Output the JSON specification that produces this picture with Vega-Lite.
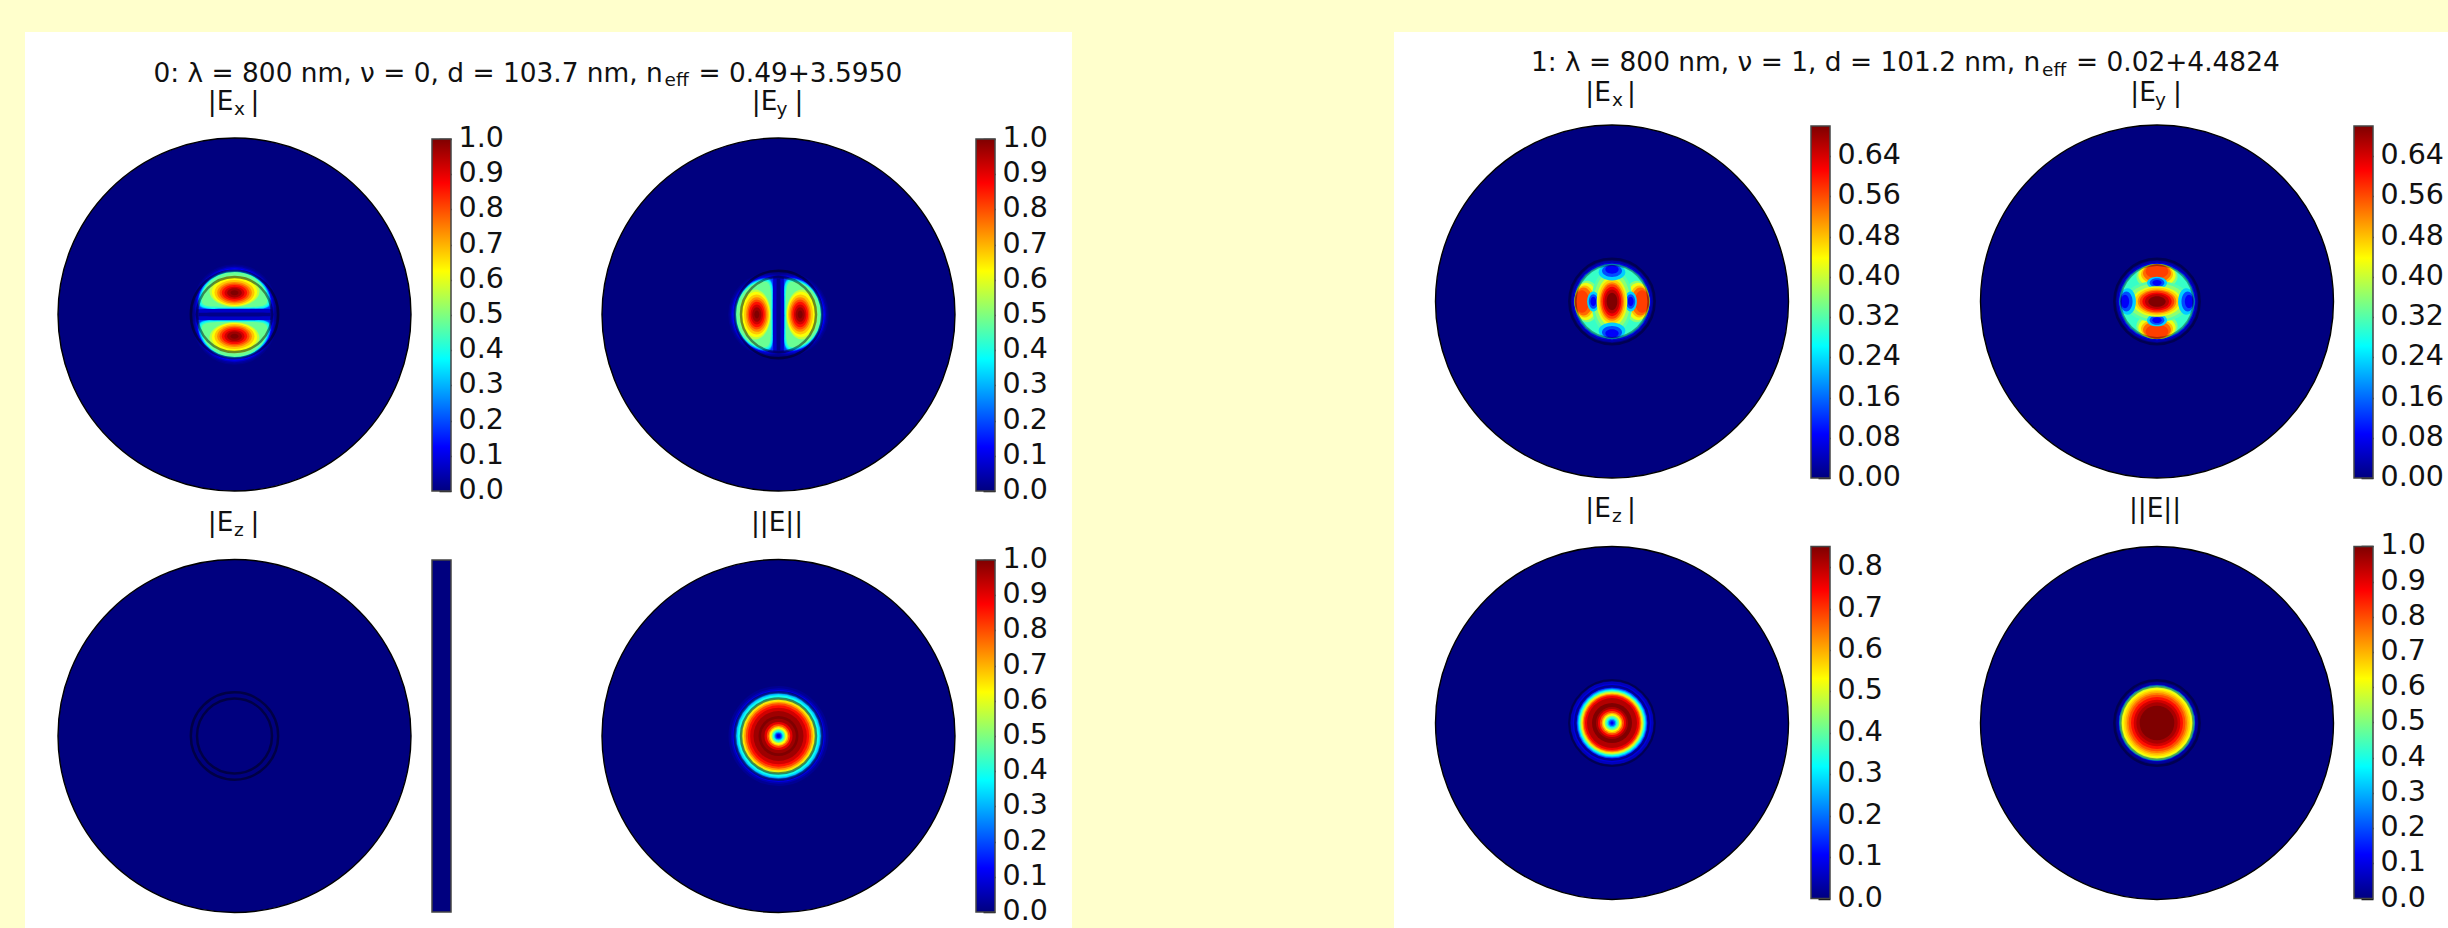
{"$schema":"https://vega.github.io/schema/vega-lite/v6.json","background":"#ffffcc","padding":{"left":25,"top":32,"right":0,"bottom":0},
"config":{"view":{"fill":"white","stroke":null},"legend":{"disable":true},"range":{"ramp":["#00007f","#0000ff","#007fff","#00ffff","#7fff7f","#ffff00","#ff7f00","#ff0000","#7f0000"]},
"axis":{"disable":true,"domain":false,"grid":false,"labelFont":"DejaVu Sans","labelFontSize":28.5,"labelColor":"#111","tickColor":"#111","tickWidth":1.5,"tickSize":-12,"labelPadding":19,"labelBaseline":"middle","labelOffset":-1.5,"labelOverlap":false,"labelFlush":false,"zindex":1},
"point":{"filled":true,"opacity":1},
"text":{"font":"DejaVu Sans","fontSize":26.4,"baseline":"middle","align":"left","color":"#111"},
"rect":{"stroke":"#444","strokeWidth":1.5,"fill":{"gradient":"linear","x1":0,"y1":1,"x2":0,"y2":0,"stops":[{"offset":0,"color":"#00007f"},{"offset":0.125,"color":"#0000ff"},{"offset":0.25,"color":"#007fff"},{"offset":0.375,"color":"#00ffff"},{"offset":0.5,"color":"#7fff7f"},{"offset":0.625,"color":"#ffff00"},{"offset":0.75,"color":"#ff7f00"},{"offset":0.875,"color":"#ff0000"},{"offset":1,"color":"#7f0000"}]}}},
"datasets":{
"disc":[{"x":0,"y":0,"r":529.5,"v":0}],
"rings0":[{"x":0,"y":0,"r":112.5},{"x":0,"y":0,"r":131}],
"rings1":[{"x":0,"y":0,"r":110},{"x":0,"y":0,"r":128}],
"bar1":[{"low":0,"high":1}],"bar70":[{"low":0,"high":0.7}],"bar85":[{"low":0,"high":0.85}],
"f0_halo":[{"x":0,"y":25,"r":126,"v":0.015},{"x":0,"y":-25,"r":126,"v":0.015},{"x":0,"y":25,"r":122,"v":0.03},{"x":0,"y":-25,"r":122,"v":0.03},{"x":0,"y":25,"r":118,"v":0.07},{"x":0,"y":-25,"r":118,"v":0.07},{"x":0,"y":25,"r":114,"v":0.12},{"x":0,"y":-25,"r":114,"v":0.12},{"x":0,"y":25,"r":110,"v":0.17},{"x":0,"y":-25,"r":110,"v":0.17}],
"f0_domeU":[{"x":0,"y":44,"r":110,"v":0.2},{"x":0,"y":46,"r":108,"v":0.28},{"x":0,"y":46,"r":105,"v":0.36},{"x":0,"y":48,"r":102,"v":0.42},{"x":0,"y":50,"r":98,"v":0.48}],
"f0_domeL":[{"x":0,"y":-44,"r":110,"v":0.2},{"x":0,"y":-46,"r":108,"v":0.28},{"x":0,"y":-46,"r":105,"v":0.36},{"x":0,"y":-48,"r":102,"v":0.42},{"x":0,"y":-50,"r":98,"v":0.48}],
"f0_ovalU":[{"x":0,"y":70,"r":75,"v":0.56},{"x":0,"y":68,"r":68,"v":0.62},{"x":0,"y":66,"r":60,"v":0.68},{"x":0,"y":65,"r":52,"v":0.74},{"x":0,"y":65,"r":45,"v":0.8},{"x":0,"y":65,"r":38,"v":0.86},{"x":0,"y":65,"r":30,"v":0.92},{"x":0,"y":65,"r":22,"v":0.97},{"x":0,"y":65,"r":12,"v":1}],
"f0_ovalL":[{"x":0,"y":-70,"r":75,"v":0.56},{"x":0,"y":-68,"r":68,"v":0.62},{"x":0,"y":-66,"r":60,"v":0.68},{"x":0,"y":-65,"r":52,"v":0.74},{"x":0,"y":-65,"r":45,"v":0.8},{"x":0,"y":-65,"r":38,"v":0.86},{"x":0,"y":-65,"r":30,"v":0.92},{"x":0,"y":-65,"r":22,"v":0.97},{"x":0,"y":-65,"r":12,"v":1}],
"f0_band1":[{"x":0,"y":0,"r":112,"v":0.07}],"f0_band2":[{"x":0,"y":0,"r":108,"v":0.01}],
"f0_norm":[{"x":0,"y":0,"r":150,"v":0.02},{"x":0,"y":0,"r":143,"v":0.05},{"x":0,"y":0,"r":138,"v":0.1},{"x":0,"y":0,"r":134,"v":0.16},{"x":0,"y":0,"r":130,"v":0.25},{"x":0,"y":0,"r":126,"v":0.33},{"x":0,"y":0,"r":122,"v":0.39},{"x":0,"y":0,"r":116,"v":0.44},{"x":0,"y":0,"r":112,"v":0.55},{"x":0,"y":0,"r":108,"v":0.65},{"x":0,"y":0,"r":103,"v":0.72},{"x":0,"y":0,"r":98,"v":0.8},{"x":0,"y":0,"r":92,"v":0.86},{"x":0,"y":0,"r":85,"v":0.92},{"x":0,"y":0,"r":75,"v":0.97},{"x":0,"y":0,"r":60,"v":1},{"x":0,"y":0,"r":52,"v":0.97},{"x":0,"y":0,"r":42,"v":0.9},{"x":0,"y":0,"r":35,"v":0.8},{"x":0,"y":0,"r":30,"v":0.7},{"x":0,"y":0,"r":26,"v":0.62},{"x":0,"y":0,"r":21,"v":0.5},{"x":0,"y":0,"r":17,"v":0.4},{"x":0,"y":0,"r":13,"v":0.3},{"x":0,"y":0,"r":10,"v":0.2},{"x":0,"y":0,"r":7,"v":0.12},{"x":0,"y":0,"r":4,"v":0.07}],
"f1_base":[{"x":0,"y":0,"r":122,"v":0.03},{"x":0,"y":0,"r":116,"v":0.085},{"x":0,"y":0,"r":113,"v":0.21},{"x":0,"y":0,"r":110,"v":0.3}],
"f1_tall":[{"x":74,"y":0,"r":62,"v":0.355},{"x":-74,"y":0,"r":62,"v":0.355},{"x":78,"y":0,"r":56,"v":0.426},{"x":-78,"y":0,"r":56,"v":0.426},{"x":82,"y":0,"r":48,"v":0.483},{"x":-82,"y":0,"r":48,"v":0.483},{"x":85,"y":0,"r":42,"v":0.54},{"x":-85,"y":0,"r":42,"v":0.54},{"x":90,"y":0,"r":34,"v":0.57},{"x":-90,"y":0,"r":34,"v":0.57},{"x":0,"y":0,"r":100,"v":0.32},{"x":0,"y":0,"r":88,"v":0.36},{"x":56,"y":0,"r":30,"v":0.23},{"x":-56,"y":0,"r":30,"v":0.23},{"x":56,"y":0,"r":22,"v":0.14},{"x":-56,"y":0,"r":22,"v":0.14},{"x":56,"y":0,"r":14,"v":0.085},{"x":-56,"y":0,"r":14,"v":0.085},{"x":0,"y":0,"r":74,"v":0.42},{"x":0,"y":0,"r":66,"v":0.47},{"x":0,"y":0,"r":58,"v":0.52},{"x":0,"y":0,"r":52,"v":0.57},{"x":0,"y":0,"r":44,"v":0.62},{"x":0,"y":0,"r":36,"v":0.66},{"x":0,"y":0,"r":26,"v":0.7}],
"f1_wide":[{"x":0,"y":88,"r":40,"v":0.23},{"x":0,"y":-88,"r":40,"v":0.23},{"x":0,"y":92,"r":30,"v":0.14},{"x":0,"y":-92,"r":30,"v":0.14},{"x":0,"y":96,"r":20,"v":0.085},{"x":0,"y":-96,"r":20,"v":0.085}],
"f1_ez":[{"x":0,"y":0,"r":126,"v":0.05},{"x":0,"y":0,"r":118,"v":0.077},{"x":0,"y":0,"r":110,"v":0.1},{"x":0,"y":0,"r":106,"v":0.17},{"x":0,"y":0,"r":103,"v":0.255},{"x":0,"y":0,"r":100,"v":0.323},{"x":0,"y":0,"r":97,"v":0.4},{"x":0,"y":0,"r":94,"v":0.476},{"x":0,"y":0,"r":91,"v":0.553},{"x":0,"y":0,"r":88,"v":0.62},{"x":0,"y":0,"r":85,"v":0.697},{"x":0,"y":0,"r":81,"v":0.757},{"x":0,"y":0,"r":75,"v":0.808},{"x":0,"y":0,"r":60,"v":0.85},{"x":0,"y":0,"r":48,"v":0.816},{"x":0,"y":0,"r":42,"v":0.757},{"x":0,"y":0,"r":36,"v":0.68},{"x":0,"y":0,"r":31,"v":0.595},{"x":0,"y":0,"r":27,"v":0.527},{"x":0,"y":0,"r":22,"v":0.425},{"x":0,"y":0,"r":17,"v":0.34},{"x":0,"y":0,"r":13,"v":0.255},{"x":0,"y":0,"r":9,"v":0.17},{"x":0,"y":0,"r":5,"v":0.1}],
"f1_norm":[{"x":0,"y":0,"r":122,"v":0.03},{"x":0,"y":0,"r":116,"v":0.08},{"x":0,"y":0,"r":114,"v":0.3},{"x":0,"y":0,"r":112,"v":0.45},{"x":0,"y":0,"r":109,"v":0.55},{"x":0,"y":0,"r":105,"v":0.62},{"x":0,"y":0,"r":100,"v":0.66},{"x":0,"y":0,"r":95,"v":0.7},{"x":0,"y":0,"r":90,"v":0.75},{"x":0,"y":0,"r":85,"v":0.8},{"x":0,"y":0,"r":78,"v":0.86},{"x":0,"y":0,"r":70,"v":0.92},{"x":0,"y":0,"r":62,"v":0.96},{"x":0,"y":0,"r":52,"v":1}]
},
"spacing":322,
"resolve":{"scale":{"color":"independent"}},
"hconcat":[
{"spacing":0,"resolve":{"scale":{"color":"independent"}},"vconcat":[
{"width":1047,"height":57,"layer":[
{"data":{"values":[{"t":"0: λ = 800 nm, ν = 0, d = 103.7 nm, n"}]},"mark":"text","encoding":{"x":{"datum":128.5,"scale":{"domain":[0,1047],"nice":false}},"y":{"datum":42,"scale":{"domain":[57,0],"nice":false}},"text":{"field":"t"}}},
{"data":{"values":[{"t":"eff"}]},"mark":{"type":"text","fontSize":18.5},"encoding":{"x":{"datum":639.5},"y":{"datum":47.5},"text":{"field":"t"}}},
{"data":{"values":[{"t":"= 0.49+3.5950"}]},"mark":"text","encoding":{"x":{"datum":673.5},"y":{"datum":42},"text":{"field":"t"}}}]},
{"spacing":0,"resolve":{"scale":{"color":"independent"}},"hconcat":[
{"width":405,"height":416,"layer":[
{"encoding":{"x":{"field":"x","type":"quantitative","scale":{"domain":[-628.5,586.5],"nice":false}},"y":{"field":"y","type":"quantitative","scale":{"domain":[-571.5,676.5],"nice":false}},"size":{"field":"r","type":"quantitative","scale":{"type":"pow","exponent":2,"domain":[0,529.5],"range":[0,124609],"nice":false}},"color":{"field":"v","type":"quantitative","scale":{"domain":[0,1],"interpolate":"rgb","nice":false}}},"layer":[
{"data":{"name":"disc"},"mark":"point"},
{"data":{"name":"f0_halo"},"mark":"point"},
{"data":{"name":"f0_domeU"},"mark":{"type":"point","shape":"M-1,.1C-1,-.4 -.55,-.78 0,-.78C.55,-.78 1,-.4 1,.1C1,.3 .7,.28 0,.28C-.7,.28 -1,.3 -1,.1Z"}},
{"data":{"name":"f0_domeL"},"mark":{"type":"point","angle":180,"shape":"M-1,.1C-1,-.4 -.55,-.78 0,-.78C.55,-.78 1,-.4 1,.1C1,.3 .7,.28 0,.28C-.7,.28 -1,.3 -1,.1Z"}},
{"data":{"name":"f0_ovalU"},"mark":{"type":"point","shape":"M-1,0C-1,-.34 -.55,-.62 0,-.62C.55,-.62 1,-.34 1,0C1,.34 .55,.62 0,.62C-.55,.62 -1,.34 -1,0Z"}},
{"data":{"name":"f0_ovalL"},"mark":{"type":"point","shape":"M-1,0C-1,-.34 -.55,-.62 0,-.62C.55,-.62 1,-.34 1,0C1,.34 .55,.62 0,.62C-.55,.62 -1,.34 -1,0Z"}},
{"data":{"name":"f0_band1"},"mark":{"type":"point","shape":"M-1,-.14C-.5,-.16 .5,-.16 1,-.14L1,.14C.5,.16 -.5,.16 -1,.14Z"}},
{"data":{"name":"f0_band2"},"mark":{"type":"point","shape":"M-1,-.05C-.5,-.06 .5,-.06 1,-.05L1,.05C.5,.06 -.5,.06 -1,.05Z"}},
{"data":{"name":"rings0"},"mark":{"type":"point","filled":false,"strokeWidth":2.5,"opacity":0.45},"encoding":{"color":{"value":"black"}}},
{"data":{"name":"disc"},"mark":{"type":"point","filled":false,"strokeWidth":1.4},"encoding":{"color":{"value":"black"}}}]},
{"data":{"values":[{"t":"|E"}]},"mark":"text","encoding":{"x":{"datum":-80},"y":{"datum":637},"text":{"field":"t"}}},
{"data":{"values":[{"t":"x"}]},"mark":{"type":"text","fontSize":18.5},"encoding":{"x":{"datum":-1.5},"y":{"datum":616},"text":{"field":"t"}}},
{"data":{"values":[{"t":"|"}]},"mark":"text","encoding":{"x":{"datum":48},"y":{"datum":637},"text":{"field":"t"}}}]},
{"width":145,"height":416,"data":{"name":"bar1"},"mark":"rect","encoding":{"x":{"datum":2,"scale":{"domain":[0,145],"nice":false}},"x2":{"datum":21},"y":{"field":"low","type":"quantitative","scale":{"domain":[-0.0398,1.142],"nice":false},"axis":{"disable":false,"title":null,"orient":"right","offset":-124,"values":[0,0.1,0.2,0.3,0.4,0.5,0.6,0.7,0.8,0.9,1],"format":".1f"}},"y2":{"field":"high"}}},
{"width":399,"height":416,"layer":[
{"encoding":{"x":{"field":"y","type":"quantitative","scale":{"domain":[-610.5,586.5],"nice":false}},"y":{"field":"x","type":"quantitative","scale":{"domain":[-571.5,676.5],"nice":false}},"size":{"field":"r","type":"quantitative","scale":{"type":"pow","exponent":2,"domain":[0,529.5],"range":[0,124609],"nice":false}},"color":{"field":"v","type":"quantitative","scale":{"domain":[0,1],"interpolate":"rgb","nice":false}}},"layer":[
{"data":{"name":"disc"},"mark":"point"},
{"data":{"name":"f0_halo"},"mark":"point"},
{"data":{"name":"f0_domeU"},"mark":{"type":"point","angle":90,"shape":"M-1,.1C-1,-.4 -.55,-.78 0,-.78C.55,-.78 1,-.4 1,.1C1,.3 .7,.28 0,.28C-.7,.28 -1,.3 -1,.1Z"}},
{"data":{"name":"f0_domeL"},"mark":{"type":"point","angle":270,"shape":"M-1,.1C-1,-.4 -.55,-.78 0,-.78C.55,-.78 1,-.4 1,.1C1,.3 .7,.28 0,.28C-.7,.28 -1,.3 -1,.1Z"}},
{"data":{"name":"f0_ovalU"},"mark":{"type":"point","angle":90,"shape":"M-1,0C-1,-.34 -.55,-.62 0,-.62C.55,-.62 1,-.34 1,0C1,.34 .55,.62 0,.62C-.55,.62 -1,.34 -1,0Z"}},
{"data":{"name":"f0_ovalL"},"mark":{"type":"point","angle":90,"shape":"M-1,0C-1,-.34 -.55,-.62 0,-.62C.55,-.62 1,-.34 1,0C1,.34 .55,.62 0,.62C-.55,.62 -1,.34 -1,0Z"}},
{"data":{"name":"f0_band1"},"mark":{"type":"point","angle":90,"shape":"M-1,-.14C-.5,-.16 .5,-.16 1,-.14L1,.14C.5,.16 -.5,.16 -1,.14Z"}},
{"data":{"name":"f0_band2"},"mark":{"type":"point","angle":90,"shape":"M-1,-.05C-.5,-.06 .5,-.06 1,-.05L1,.05C.5,.06 -.5,.06 -1,.05Z"}},
{"data":{"name":"rings0"},"mark":{"type":"point","filled":false,"strokeWidth":2.5,"opacity":0.45},"encoding":{"color":{"value":"black"}}},
{"data":{"name":"disc"},"mark":{"type":"point","filled":false,"strokeWidth":1.4},"encoding":{"color":{"value":"black"}}}]},
{"data":{"values":[{"t":"|E"}]},"mark":"text","encoding":{"x":{"datum":-80},"y":{"datum":637},"text":{"field":"t"}}},
{"data":{"values":[{"t":"y"}]},"mark":{"type":"text","fontSize":18.5},"encoding":{"x":{"datum":-6},"y":{"datum":616},"text":{"field":"t"}}},
{"data":{"values":[{"t":"|"}]},"mark":"text","encoding":{"x":{"datum":48},"y":{"datum":637},"text":{"field":"t"}}}]},
{"width":98,"height":416,"data":{"name":"bar1"},"mark":"rect","encoding":{"x":{"datum":2,"scale":{"domain":[0,98],"nice":false}},"x2":{"datum":21},"y":{"field":"low","type":"quantitative","scale":{"domain":[-0.0398,1.142],"nice":false},"axis":{"disable":false,"title":null,"orient":"right","offset":-77,"values":[0,0.1,0.2,0.3,0.4,0.5,0.6,0.7,0.8,0.9,1],"format":".1f"}},"y2":{"field":"high"}}}
]},
{"spacing":0,"resolve":{"scale":{"color":"independent"}},"hconcat":[
{"width":405,"height":423,"layer":[
{"encoding":{"x":{"field":"x","type":"quantitative","scale":{"domain":[-628.5,586.5],"nice":false}},"y":{"field":"y","type":"quantitative","scale":{"domain":[-576,693],"nice":false}},"size":{"field":"r","type":"quantitative","scale":{"type":"pow","exponent":2,"domain":[0,529.5],"range":[0,124609],"nice":false}},"color":{"field":"v","type":"quantitative","scale":{"domain":[0,1],"interpolate":"rgb","nice":false}}},"layer":[
{"data":{"name":"disc"},"mark":"point"},
{"data":{"name":"rings0"},"mark":{"type":"point","filled":false,"strokeWidth":2.5,"opacity":0.45},"encoding":{"color":{"value":"black"}}},
{"data":{"name":"disc"},"mark":{"type":"point","filled":false,"strokeWidth":1.4},"encoding":{"color":{"value":"black"}}}]},
{"data":{"values":[{"t":"|E"}]},"mark":"text","encoding":{"x":{"datum":-80},"y":{"datum":639},"text":{"field":"t"}}},
{"data":{"values":[{"t":"z"}]},"mark":{"type":"text","fontSize":18.5},"encoding":{"x":{"datum":-1.5},"y":{"datum":618},"text":{"field":"t"}}},
{"data":{"values":[{"t":"|"}]},"mark":"text","encoding":{"x":{"datum":48},"y":{"datum":639},"text":{"field":"t"}}}]},
{"width":145,"height":423,"data":{"values":[{"low":0,"high":1}]},"mark":{"type":"rect","fill":"#00007f"},"encoding":{"x":{"datum":2,"scale":{"domain":[0,145],"nice":false}},"x2":{"datum":21},"y":{"field":"low","type":"quantitative","scale":{"domain":[-0.0455,1.1563],"nice":false}},"y2":{"field":"high"}}},
{"width":399,"height":423,"layer":[
{"encoding":{"x":{"field":"x","type":"quantitative","scale":{"domain":[-610.5,586.5],"nice":false}},"y":{"field":"y","type":"quantitative","scale":{"domain":[-576,693],"nice":false}},"size":{"field":"r","type":"quantitative","scale":{"type":"pow","exponent":2,"domain":[0,529.5],"range":[0,124609],"nice":false}},"color":{"field":"v","type":"quantitative","scale":{"domain":[0,1],"interpolate":"rgb","nice":false}}},"layer":[
{"data":{"name":"disc"},"mark":"point"},
{"data":{"name":"f0_norm"},"mark":"point"},
{"data":{"name":"rings0"},"mark":{"type":"point","filled":false,"strokeWidth":2.5,"opacity":0.45},"encoding":{"color":{"value":"black"}}},
{"data":{"name":"disc"},"mark":{"type":"point","filled":false,"strokeWidth":1.4},"encoding":{"color":{"value":"black"}}}]},
{"data":{"values":[{"t":"||E||"}]},"mark":{"type":"text","align":"center"},"encoding":{"x":{"datum":-4.5},"y":{"datum":639},"text":{"field":"t"}}}]},
{"width":98,"height":423,"data":{"name":"bar1"},"mark":"rect","encoding":{"x":{"datum":2,"scale":{"domain":[0,98],"nice":false}},"x2":{"datum":21},"y":{"field":"low","type":"quantitative","scale":{"domain":[-0.0455,1.1563],"nice":false},"axis":{"disable":false,"title":null,"orient":"right","offset":-77,"values":[0,0.1,0.2,0.3,0.4,0.5,0.6,0.7,0.8,0.9,1],"format":".1f"}},"y2":{"field":"high"}}}
]}
]},
{"spacing":0,"resolve":{"scale":{"color":"independent"}},"vconcat":[
{"width":1054,"height":47,"layer":[
{"data":{"values":[{"t":"1: λ = 800 nm, ν = 1, d = 101.2 nm, n"}]},"mark":"text","encoding":{"x":{"datum":137,"scale":{"domain":[0,1054],"nice":false}},"y":{"datum":31,"scale":{"domain":[47,0],"nice":false}},"text":{"field":"t"}}},
{"data":{"values":[{"t":"eff"}]},"mark":{"type":"text","fontSize":18.5},"encoding":{"x":{"datum":648},"y":{"datum":37.5},"text":{"field":"t"}}},
{"data":{"values":[{"t":"= 0.02+4.4824"}]},"mark":"text","encoding":{"x":{"datum":682},"y":{"datum":31},"text":{"field":"t"}}}]},
{"spacing":0,"resolve":{"scale":{"color":"independent"}},"hconcat":[
{"width":415,"height":413,"layer":[
{"encoding":{"x":{"field":"x","type":"quantitative","scale":{"domain":[-654,591],"nice":false}},"y":{"field":"y","type":"quantitative","scale":{"domain":[-571.5,667.5],"nice":false}},"size":{"field":"r","type":"quantitative","scale":{"type":"pow","exponent":2,"domain":[0,529.5],"range":[0,124609],"nice":false}},"color":{"field":"v","type":"quantitative","scale":{"domain":[0,0.7],"interpolate":"rgb","nice":false}}},"layer":[
{"data":{"name":"disc"},"mark":"point"},
{"data":{"name":"f1_base"},"mark":"point"},
{"data":{"name":"f1_tall"},"mark":{"type":"point","angle":90,"shape":"M-1,0C-1,-.34 -.55,-.62 0,-.62C.55,-.62 1,-.34 1,0C1,.34 .55,.62 0,.62C-.55,.62 -1,.34 -1,0Z"}},
{"data":{"name":"f1_wide"},"mark":{"type":"point","shape":"M-1,0C-1,-.34 -.55,-.62 0,-.62C.55,-.62 1,-.34 1,0C1,.34 .55,.62 0,.62C-.55,.62 -1,.34 -1,0Z"}},
{"data":{"name":"rings1"},"mark":{"type":"point","filled":false,"strokeWidth":2.5,"opacity":0.35},"encoding":{"color":{"value":"black"}}},
{"data":{"name":"disc"},"mark":{"type":"point","filled":false,"strokeWidth":1.4},"encoding":{"color":{"value":"black"}}}]},
{"data":{"values":[{"t":"|E"}]},"mark":"text","encoding":{"x":{"datum":-80},"y":{"datum":625},"text":{"field":"t"}}},
{"data":{"values":[{"t":"x"}]},"mark":{"type":"text","fontSize":18.5},"encoding":{"x":{"datum":0},"y":{"datum":604},"text":{"field":"t"}}},
{"data":{"values":[{"t":"|"}]},"mark":"text","encoding":{"x":{"datum":45},"y":{"datum":625},"text":{"field":"t"}}}]},
{"width":141,"height":413,"data":{"name":"bar70"},"mark":"rect","encoding":{"x":{"datum":2,"scale":{"domain":[0,141],"nice":false}},"x2":{"datum":21},"y":{"field":"low","type":"quantitative","scale":{"domain":[-0.02784,0.7935],"nice":false},"axis":{"disable":false,"title":null,"orient":"right","offset":-120,"values":[0,0.08,0.16,0.24,0.32,0.4,0.48,0.56,0.64],"format":".2f"}},"y2":{"field":"high"}}},
{"width":402,"height":413,"layer":[
{"encoding":{"x":{"field":"y","type":"quantitative","scale":{"domain":[-621,585],"nice":false}},"y":{"field":"x","type":"quantitative","scale":{"domain":[-571.5,667.5],"nice":false}},"size":{"field":"r","type":"quantitative","scale":{"type":"pow","exponent":2,"domain":[0,529.5],"range":[0,124609],"nice":false}},"color":{"field":"v","type":"quantitative","scale":{"domain":[0,0.7],"interpolate":"rgb","nice":false}}},"layer":[
{"data":{"name":"disc"},"mark":"point"},
{"data":{"name":"f1_base"},"mark":"point"},
{"data":{"name":"f1_tall"},"mark":{"type":"point","shape":"M-1,0C-1,-.34 -.55,-.62 0,-.62C.55,-.62 1,-.34 1,0C1,.34 .55,.62 0,.62C-.55,.62 -1,.34 -1,0Z"}},
{"data":{"name":"f1_wide"},"mark":{"type":"point","angle":90,"shape":"M-1,0C-1,-.34 -.55,-.62 0,-.62C.55,-.62 1,-.34 1,0C1,.34 .55,.62 0,.62C-.55,.62 -1,.34 -1,0Z"}},
{"data":{"name":"rings1"},"mark":{"type":"point","filled":false,"strokeWidth":2.5,"opacity":0.35},"encoding":{"color":{"value":"black"}}},
{"data":{"name":"disc"},"mark":{"type":"point","filled":false,"strokeWidth":1.4},"encoding":{"color":{"value":"black"}}}]},
{"data":{"values":[{"t":"|E"}]},"mark":"text","encoding":{"x":{"datum":-80},"y":{"datum":625},"text":{"field":"t"}}},
{"data":{"values":[{"t":"y"}]},"mark":{"type":"text","fontSize":18.5},"encoding":{"x":{"datum":-6},"y":{"datum":604},"text":{"field":"t"}}},
{"data":{"values":[{"t":"|"}]},"mark":"text","encoding":{"x":{"datum":48},"y":{"datum":625},"text":{"field":"t"}}}]},
{"width":96,"height":413,"data":{"name":"bar70"},"mark":"rect","encoding":{"x":{"datum":2,"scale":{"domain":[0,96],"nice":false}},"x2":{"datum":21},"y":{"field":"low","type":"quantitative","scale":{"domain":[-0.02784,0.7935],"nice":false},"axis":{"disable":false,"title":null,"orient":"right","offset":-75,"values":[0,0.08,0.16,0.24,0.32,0.4,0.48,0.56,0.64],"format":".2f"}},"y2":{"field":"high"}}}
]},
{"spacing":0,"resolve":{"scale":{"color":"independent"}},"hconcat":[
{"width":415,"height":436,"layer":[
{"encoding":{"x":{"field":"x","type":"quantitative","scale":{"domain":[-654,591],"nice":false}},"y":{"field":"y","type":"quantitative","scale":{"domain":[-615,693],"nice":false}},"size":{"field":"r","type":"quantitative","scale":{"type":"pow","exponent":2,"domain":[0,529.5],"range":[0,124609],"nice":false}},"color":{"field":"v","type":"quantitative","scale":{"domain":[0,0.85],"interpolate":"rgb","nice":false}}},"layer":[
{"data":{"name":"disc"},"mark":"point"},
{"data":{"name":"f1_ez"},"mark":"point"},
{"data":{"name":"rings1"},"mark":{"type":"point","filled":false,"strokeWidth":2.5,"opacity":0.35},"encoding":{"color":{"value":"black"}}},
{"data":{"name":"disc"},"mark":{"type":"point","filled":false,"strokeWidth":1.4},"encoding":{"color":{"value":"black"}}}]},
{"data":{"values":[{"t":"|E"}]},"mark":"text","encoding":{"x":{"datum":-80},"y":{"datum":642},"text":{"field":"t"}}},
{"data":{"values":[{"t":"z"}]},"mark":{"type":"text","fontSize":18.5},"encoding":{"x":{"datum":0},"y":{"datum":621},"text":{"field":"t"}}},
{"data":{"values":[{"t":"|"}]},"mark":"text","encoding":{"x":{"datum":45},"y":{"datum":642},"text":{"field":"t"}}}]},
{"width":141,"height":436,"data":{"name":"bar85"},"mark":"rect","encoding":{"x":{"datum":2,"scale":{"domain":[0,141],"nice":false}},"x2":{"datum":21},"y":{"field":"low","type":"quantitative","scale":{"domain":[-0.0712,0.9817],"nice":false},"axis":{"disable":false,"title":null,"orient":"right","offset":-120,"values":[0,0.1,0.2,0.3,0.4,0.5,0.6,0.7,0.8],"format":".1f"}},"y2":{"field":"high"}}},
{"width":402,"height":436,"layer":[
{"encoding":{"x":{"field":"x","type":"quantitative","scale":{"domain":[-621,585],"nice":false}},"y":{"field":"y","type":"quantitative","scale":{"domain":[-615,693],"nice":false}},"size":{"field":"r","type":"quantitative","scale":{"type":"pow","exponent":2,"domain":[0,529.5],"range":[0,124609],"nice":false}},"color":{"field":"v","type":"quantitative","scale":{"domain":[0,1],"interpolate":"rgb","nice":false}}},"layer":[
{"data":{"name":"disc"},"mark":"point"},
{"data":{"name":"f1_norm"},"mark":"point"},
{"data":{"name":"rings1"},"mark":{"type":"point","filled":false,"strokeWidth":2.5,"opacity":0.35},"encoding":{"color":{"value":"black"}}},
{"data":{"name":"disc"},"mark":{"type":"point","filled":false,"strokeWidth":1.4},"encoding":{"color":{"value":"black"}}}]},
{"data":{"values":[{"t":"||E||"}]},"mark":{"type":"text","align":"center"},"encoding":{"x":{"datum":-6},"y":{"datum":642},"text":{"field":"t"}}}]},
{"width":96,"height":436,"data":{"name":"bar1"},"mark":"rect","encoding":{"x":{"datum":2,"scale":{"domain":[0,96],"nice":false}},"x2":{"datum":21},"y":{"field":"low","type":"quantitative","scale":{"domain":[-0.0838,1.1548],"nice":false},"axis":{"disable":false,"title":null,"orient":"right","offset":-75,"values":[0,0.1,0.2,0.3,0.4,0.5,0.6,0.7,0.8,0.9,1],"format":".1f"}},"y2":{"field":"high"}}}
]}
]}
]}
